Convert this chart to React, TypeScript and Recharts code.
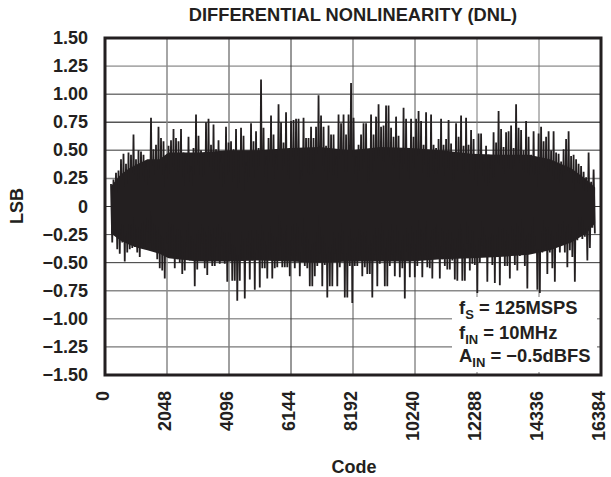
import { ComposedChart, Area, Line, XAxis, YAxis, CartesianGrid, ReferenceArea } from "recharts";

const INK = "#231f20";
const FONT = "'Liberation Sans', Arial, sans-serif";

const yTicks = [1.5, 1.25, 1, 0.75, 0.5, 0.25, 0, -0.25, -0.5, -0.75, -1, -1.25, -1.5];
const xTicks = [0, 2048, 4096, 6144, 8192, 10240, 12288, 14336, 16384];

// first code of the trace and the code spacing of the columns
const firstCode = 198;
const codeStep = 82.6;

// upper envelope of the trace, left to right
const dnlHigh = [
  0.2, 0.24, 0.3, 0.32, 0.42, 0.47, 0.38, 0.48, 0.46, 0.64, 0.42, 0.5, 0.49, 0.46, 0.4, 0.29,
  0.79, 0.51, 0.55, 0.71, 0.61, 0.58, 0.38, 0.54, 0.59, 0.69, 0.61, 0.58, 0.69, 0.48, 0.45, 0.62,
  0.36, 0.52, 0.82, 0.63, 0.5, 0.46, 0.75, 0.78, 0.55, 0.73, 0.51, 0.59, 0.46, 0.3, 0.71, 0.57,
  0.58, 0.51, 0.69, 0.41, 0.7, 0.63, 0.39, 0.48, 0.74, 0.58, 0.67, 0.52, 1.13, 0.7, 0.45, 0.61, 0.81,
  0.64, 0.46, 0.91, 0.75, 0.57, 0.84, 0.41, 0.76, 0.77, 0.78, 0.78, 0.32, 0.79, 0.61, 0.61, 0.71,
  0.61, 0.71, 0.99, 0.81, 0.71, 0.54, 0.72, 0.64, 0.64, 0.45, 0.82, 0.74, 0.82, 0.64, 0.82, 1.1, 0.79,
  0.45, 0.55, 0.64, 0.74, 0.74, 0.35, 0.82, 0.64, 0.8, 0.91, 0.71, 0.72, 0.9, 0.9, 0.7, 0.62, 0.8,
  0.63, 0.5, 0.88, 0.78, 0.41, 0.78, 0.62, 0.78, 0.85, 0.76, 0.55, 0.84, 0.38, 0.82, 0.55, 0.52,
  0.6, 0.78, 0.55, 0.6, 0.77, 0.56, 0.43, 0.74, 0.62, 0.81, 0.54, 0.79, 0.55, 0.68, 0.6, 0.44, 0.65,
  0.65, 0.39, 0.54, 0.46, 0.44, 0.66, 0.57, 0.85, 0.69, 0.53, 0.66, 0.67, 0.72, 0.52, 0.91, 0.7,
  0.68, 0.5, 0.76, 0.62, 0.46, 0.67, 0.39, 0.65, 0.71, 0.58, 0.62, 0.67, 0.5, 0.67, 0.48, 0.47,
  0.4, 0.51, 0.6, 0.67, 0.45, 0.46, 0.42, 0.38, 0.36, 0.31, 0.26, 0.48, 0.22, 0.33,
];

// lower envelope of the trace, left to right
const dnlLow = [
  -0.32, -0.24, -0.38, -0.42, -0.32, -0.49, -0.41, -0.38, -0.37, -0.36, -0.41, -0.45, -0.33, -0.36, -0.22, -0.32,
  -0.38, -0.39, -0.47, -0.55, -0.57, -0.64, -0.33, -0.45, -0.41, -0.55, -0.47, -0.5, -0.6, -0.57, -0.36, -0.48,
  -0.48, -0.71, -0.56, -0.48, -0.33, -0.55, -0.61, -0.45, -0.53, -0.53, -0.36, -0.51, -0.35, -0.51, -0.67, -0.42,
  -0.66, -0.66, -0.84, -0.66, -0.48, -0.82, -0.35, -0.65, -0.48, -0.74, -0.38, -0.72, -0.55, -0.55, -0.64, -0.45,
  -0.64, -0.55, -0.54, -0.36, -0.54, -0.54, -0.54, -0.62, -0.44, -0.55, -0.44, -0.62, -0.33, -0.53, -0.55, -0.71,
  -0.71, -0.62, -0.53, -0.42, -0.71, -0.52, -0.81, -0.71, -0.71, -0.42, -0.71, -0.54, -0.42, -0.81, -0.81, -0.53, -0.86, -0.53,
  -0.53, -0.44, -0.62, -0.54, -0.6, -0.6, -0.81, -0.43, -0.71, -0.51, -0.43, -0.71, -0.71, -0.53, -0.43, -0.62,
  -0.44, -0.63, -0.55, -0.82, -0.35, -0.63, -0.44, -0.63, -0.53, -0.44, -0.63, -0.44, -0.54, -0.55, -0.64, -0.36,
  -0.44, -0.64, -0.47, -0.53, -0.56, -0.56, -0.48, -0.65, -0.66, -0.39, -0.66, -0.66, -0.33, -0.57, -0.51, -0.52, -0.77, -0.5,
  -0.35, -0.45, -0.67, -0.44, -0.52, -0.68, -0.45, -0.7, -0.4, -0.53, -0.53, -0.64, -0.41, -0.52, -0.57, -0.44,
  -0.37, -0.53, -0.73, -0.41, -0.41, -0.35, -0.74, -0.77, -0.41, -0.36, -0.6, -0.41, -0.55, -0.67, -0.36, -0.41,
  -0.33, -0.41, -0.54, -0.39, -0.45, -0.67, -0.3, -0.24, -0.29, -0.27, -0.48, -0.37, -0.19, -0.24,
];

// solid core of the trace, where the samples overlap into one black mass
const coreCodes = [200, 500, 800, 1100, 1400, 1800, 2100, 3100, 4100, 5100, 6100, 7100, 8100, 9100, 10100, 11100, 12100, 13000, 14000, 14700, 15400, 15900, 16190];
const coreHigh = [0.18, 0.28, 0.34, 0.38, 0.42, 0.42, 0.48, 0.48, 0.5, 0.5, 0.52, 0.53, 0.5, 0.53, 0.52, 0.5, 0.47, 0.46, 0.46, 0.42, 0.34, 0.24, 0.17];
const coreLow = [-0.24, -0.3, -0.34, -0.37, -0.39, -0.42, -0.46, -0.49, -0.49, -0.48, -0.49, -0.5, -0.49, -0.49, -0.49, -0.47, -0.46, -0.45, -0.43, -0.39, -0.32, -0.24, -0.15];

// the trace swings between the two envelopes
const trace = dnlHigh.flatMap((high, i) => [
  { code: firstCode + i * codeStep, lsb: high },
  { code: firstCode + (i + 0.5) * codeStep, lsb: dnlLow[i] },
]);
const core = coreCodes.map((code, i) => ({ code, core: [coreLow[i], coreHigh[i]] }));
const rows: any[] = [...trace, ...core];

// the scan renders some grid lines as soft grey and others as near black
const hGrid: Record<number, [string, number]> = {
  1.25: ["#6f6f6f", 1],
  1: ["#333", 1],
  0.75: ["#555", 1.5],
  0.5: ["#777", 1.5],
  0.25: ["#888", 1.5],
  0: ["#333", 1],
  [-0.25]: ["#555", 1],
  [-0.5]: ["#333", 1],
  [-0.75]: ["#8a8a8a", 1.5],
  [-1]: ["#666", 1],
  [-1.25]: ["#555", 1],
};
const vGrid: Record<number, [string, number]> = {
  2048: ["#888", 1.5],
  4096: ["#808080", 1.5],
  6144: ["#333", 1],
  8192: ["#555", 1],
  10240: ["#555", 1],
  12288: ["#777", 1],
  14336: ["#777", 1],
};

function formatLsb(v: number) {
  if (v === 0) return "0";
  return (v < 0 ? "\u2212" : "") + Math.abs(v).toFixed(2);
}

function YTick({ y, payload }: any) {
  return (
    <text x={88} y={y} dy={6} textAnchor="end" fontFamily={FONT} fontSize={18} fontWeight="bold" fill={INK}>
      {formatLsb(payload.value)}
    </text>
  );
}

function XTick({ x, payload }: any) {
  return (
    <text
      transform={`translate(${x + 4},391) rotate(-90)`}
      textAnchor="end"
      fontFamily={FONT}
      fontSize={18}
      fontWeight="bold"
      fill={INK}
    >
      {payload.value}
    </text>
  );
}

const noteRow = { position: "absolute" as const, left: 459, whiteSpace: "nowrap" as const, lineHeight: "20px", fontSize: 18.4 };
const noteSub = { fontSize: 13, position: "relative" as const, top: 5 };

export default function App() {
  return (
    <div
      style={{
        position: "absolute",
        left: 0,
        top: 0,
        width: 611,
        height: 477,
        background: "#fff",
        fontFamily: FONT,
        fontWeight: "bold",
        color: INK,
      }}
    >
      <ComposedChart width={611} height={477} data={rows} margin={{ top: 38, right: 10, bottom: 0, left: 45 }}>
        <CartesianGrid
          horizontalValues={yTicks}
          verticalValues={xTicks}
          horizontal={(p: any) => {
            const style = hGrid[yTicks[p.index]];
            if (!style) return <g key={p.index} />;
            return <line key={p.index} x1={p.x1} x2={p.x2} y1={p.y1} y2={p.y2} stroke={style[0]} strokeWidth={style[1]} />;
          }}
          vertical={(p: any) => {
            const style = vGrid[xTicks[p.index]];
            if (!style) return <g key={p.index} />;
            return <line key={p.index} x1={p.x1} x2={p.x2} y1={p.y1} y2={p.y2} stroke={style[0]} strokeWidth={style[1]} />;
          }}
        />
        <XAxis
          dataKey="code"
          type="number"
          domain={[0, 16384]}
          ticks={xTicks}
          interval={0}
          axisLine={false}
          tickLine={false}
          tick={<XTick />}
          height={102}
        />
        <YAxis
          type="number"
          domain={[-1.5, 1.5]}
          ticks={yTicks}
          interval={0}
          axisLine={false}
          tickLine={false}
          tick={<YTick />}
          width={60}
        />
        <Area dataKey="core" type="linear" stroke="none" fill={INK} fillOpacity={1} connectNulls isAnimationActive={false} />
        <Line
          dataKey="lsb"
          type="linear"
          dot={false}
          stroke={INK}
          strokeWidth={1.8}
          strokeLinejoin="bevel"
          isAnimationActive={false}
        />
        <ReferenceArea x1={0} x2={16384} y1={-1.5} y2={1.5} fill="none" stroke={INK} strokeWidth={3} fillOpacity={0} />
      </ComposedChart>

      <div style={{ position: "absolute", left: 0, width: 706, top: 5, textAlign: "center", fontSize: 18.3, lineHeight: "20px", whiteSpace: "nowrap" }}>
        DIFFERENTIAL NONLINEARITY (DNL)
      </div>
      <div style={{ position: "absolute", left: 304, width: 100, top: 457, textAlign: "center", fontSize: 18, lineHeight: "20px" }}>
        Code
      </div>
      <div
        style={{
          position: "absolute",
          left: -33,
          width: 100,
          top: 196,
          textAlign: "center",
          fontSize: 18,
          lineHeight: "20px",
          transform: "rotate(-90deg)",
        }}
      >
        LSB
      </div>

      <div style={{ position: "absolute", left: 452, top: 297, width: 145, height: 75, background: "#fff" }} />
      <div style={{ ...noteRow, top: 298 }}>
        f<span style={noteSub}>S</span> = 125MSPS
      </div>
      <div style={{ ...noteRow, top: 323 }}>
        f<span style={noteSub}>IN</span> = 10MHz
      </div>
      <div style={{ ...noteRow, top: 346 }}>
        A<span style={noteSub}>IN</span> = {"\u2212"}0.5dBFS
      </div>
    </div>
  );
}
